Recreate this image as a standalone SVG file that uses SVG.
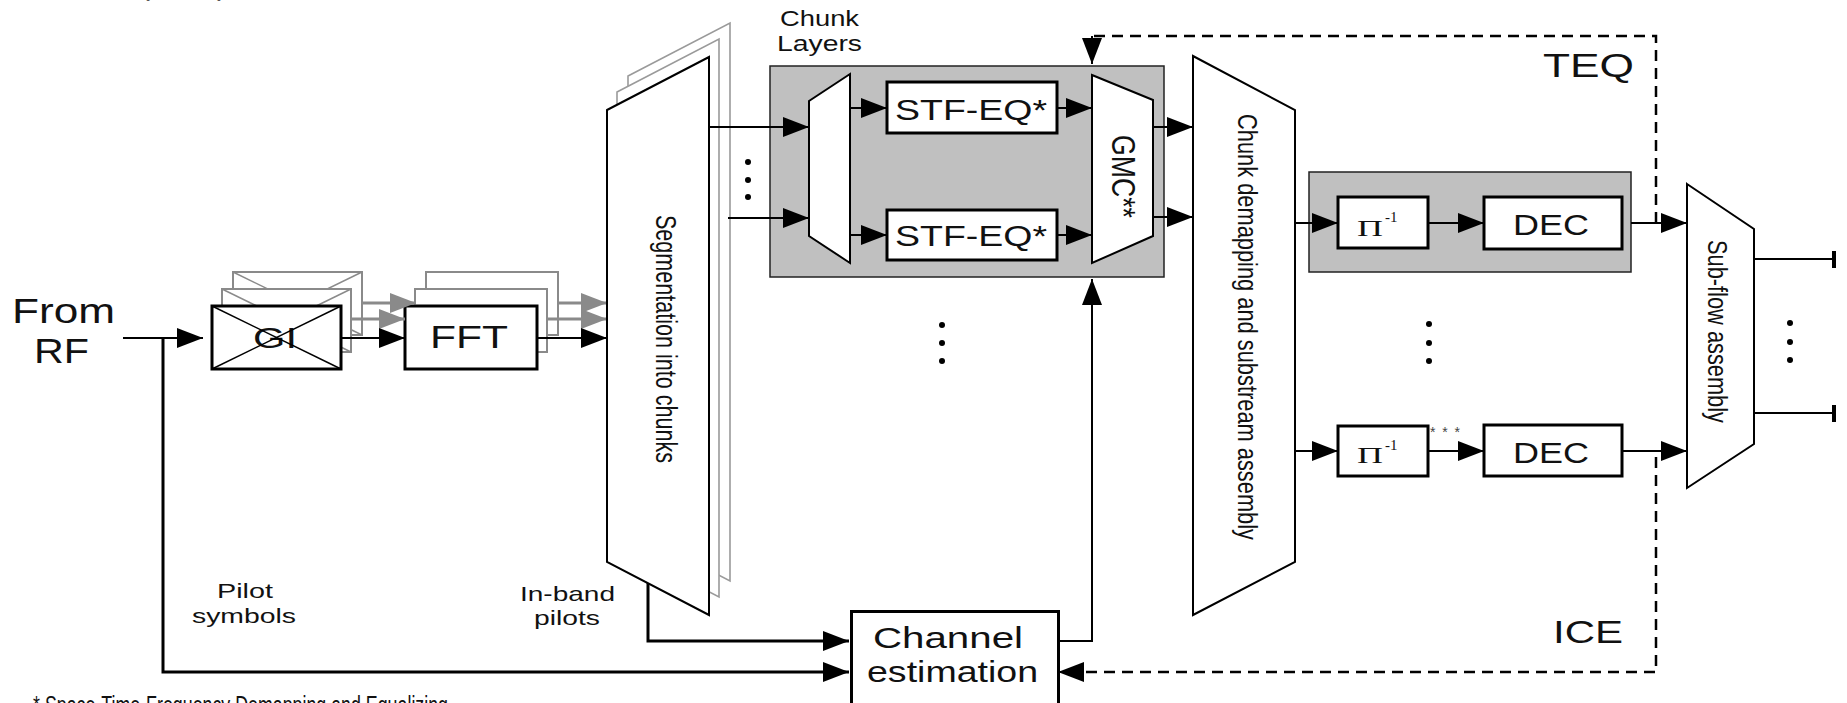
<svg xmlns="http://www.w3.org/2000/svg" width="1847" height="703" viewBox="0 0 1847 703">
<style>
text{font-family:"Liberation Sans",Arial,sans-serif;fill:#111}
.box{fill:#fff;stroke:#000;stroke-width:3}
.trap{fill:#fff;stroke:#000;stroke-width:2}
.shadow{fill:#fff;stroke:#8a8a8a;stroke-width:2}
.copy{fill:#fff;stroke:#9a9a9a;stroke-width:1.6}
.grp{fill:#c0c0c0;stroke:#222;stroke-width:1.5}
.ln{fill:none;stroke:#000;stroke-width:2}
.thick{fill:none;stroke:#000;stroke-width:3}
.gln{fill:none;stroke:#8a8a8a;stroke-width:3}
.dash{fill:none;stroke:#000;stroke-width:2.5;stroke-dasharray:11 7}
.xg{stroke:#8a8a8a;stroke-width:1.5}
.xb{stroke:#000;stroke-width:1.5}
.dot{fill:#000}
.serif{font-family:"Liberation Serif","Times New Roman",serif}
</style>
<defs>
<marker id="ah" viewBox="0 0 26 20" refX="26" refY="10" markerWidth="26" markerHeight="20" markerUnits="userSpaceOnUse" orient="auto"><path d="M0,0 L26,10 L0,20 z" fill="#000"/></marker>
<marker id="ahg" viewBox="0 0 26 20" refX="26" refY="10" markerWidth="26" markerHeight="20" markerUnits="userSpaceOnUse" orient="auto"><path d="M0,0 L26,10 L0,20 z" fill="#8a8a8a"/></marker>
</defs>

<!-- top fragment -->
<text x="140" y="-5" font-size="30" fill="#555" style="fill:#555">(</text>
<text x="217" y="-5" font-size="30" fill="#555" style="fill:#555">)</text>

<!-- GI node -->
<g id="gi">
  <rect class="shadow" x="233" y="272" width="129" height="63"/>
  <line class="xg" x1="233" y1="272" x2="362" y2="335"/><line class="xg" x1="233" y1="335" x2="362" y2="272"/>
  <rect class="shadow" x="222" y="289" width="129" height="63"/>
  <line class="xg" x1="222" y1="289" x2="351" y2="352"/><line class="xg" x1="222" y1="352" x2="351" y2="289"/>
  <rect class="box" x="212" y="306" width="129" height="63"/>
  <text x="253" y="348" font-size="29" textLength="44" lengthAdjust="spacingAndGlyphs">GI</text>
  <line class="xb" x1="212" y1="306" x2="341" y2="369"/><line class="xb" x1="212" y1="369" x2="341" y2="306"/>
</g>

<!-- FFT node -->
<g id="fft">
  <rect class="shadow" x="426" y="272" width="132" height="63"/>
  <rect class="shadow" x="415" y="289" width="132" height="63"/>
  <rect class="box" x="405" y="306" width="132" height="63"/>
  <text x="430" y="348" font-size="31" textLength="78" lengthAdjust="spacingAndGlyphs">FFT</text>
</g>

<!-- gray shadow arrows -->
<g id="shadow-connectors">
  <path class="gln" d="M351,319 H405" marker-end="url(#ahg)"/>
  <path class="gln" d="M362,303 H416" marker-end="url(#ahg)"/>
  <path class="gln" d="M547,319 H607" marker-end="url(#ahg)"/>
  <path class="gln" d="M558,303 H607" marker-end="url(#ahg)"/>
</g>

<!-- Segmentation node -->
<g id="segmentation">
  <polygon class="copy" points="628,76 730,23 730,581 628,528"/>
  <polygon class="copy" points="617,92 719,39 719,597 617,544"/>
  <polygon class="trap" points="607,110 709,57 709,615 607,562"/>
  <text transform="translate(656,215) rotate(90)" font-size="30" textLength="248" lengthAdjust="spacingAndGlyphs">Segmentation into chunks</text>
</g>

<!-- Chunk layers -->
<g id="chunk-layers">
  <text x="780" y="26" font-size="22" textLength="79" lengthAdjust="spacingAndGlyphs">Chunk</text>
  <text x="777" y="51" font-size="22" textLength="85" lengthAdjust="spacingAndGlyphs">Layers</text>
  <rect class="grp" x="770" y="66" width="394" height="211"/>
  <polygon class="trap" points="809,101 850,74 850,263 809,236"/>
  <rect class="box" x="887" y="82" width="170" height="51"/>
  <text x="895" y="120" font-size="30" textLength="152" lengthAdjust="spacingAndGlyphs">STF-EQ*</text>
  <rect class="box" x="887" y="210" width="170" height="50"/>
  <text x="895" y="246" font-size="30" textLength="152" lengthAdjust="spacingAndGlyphs">STF-EQ*</text>
  <polygon class="trap" points="1092,75 1153,100 1153,236 1092,263"/>
  <text transform="translate(1112,135) rotate(90)" font-size="34" textLength="83" lengthAdjust="spacingAndGlyphs">GMC**</text>
</g>

<!-- Chunk demapping -->
<g id="chunk-demapping">
  <polygon class="trap" points="1193,56 1295,110 1295,562 1193,615"/>
  <text transform="translate(1238,114) rotate(90)" font-size="28" textLength="426" lengthAdjust="spacingAndGlyphs">Chunk demapping and substream assembly</text>
</g>

<!-- Decoder row 1 -->
<g id="decoder-1">
  <rect class="grp" x="1309" y="172" width="322" height="100"/>
  <rect class="box" x="1338" y="197" width="90" height="51"/>
  <text class="serif" x="1357" y="236" font-size="24" textLength="26" lengthAdjust="spacingAndGlyphs">Π</text>
  <text class="serif" x="1385" y="222" font-size="15">-1</text>
  <rect class="box" x="1484" y="197" width="138" height="52"/>
  <text x="1513" y="235" font-size="29" textLength="76" lengthAdjust="spacingAndGlyphs">DEC</text>
</g>

<!-- Decoder row 2 -->
<g id="decoder-2">
  <rect class="box" x="1338" y="426" width="90" height="50"/>
  <text class="serif" x="1357" y="463" font-size="24" textLength="26" lengthAdjust="spacingAndGlyphs">Π</text>
  <text class="serif" x="1385" y="450" font-size="15">-1</text>
  <text x="1430" y="437" font-size="14" style="fill:#444" textLength="30" lengthAdjust="spacing">***</text>
  <rect class="box" x="1484" y="425" width="138" height="51"/>
  <text x="1513" y="463" font-size="29" textLength="76" lengthAdjust="spacingAndGlyphs">DEC</text>
</g>

<!-- Sub-flow assembly -->
<g id="subflow">
  <polygon class="trap" points="1687,184 1754,229 1754,444 1687,488"/>
  <text transform="translate(1708,240) rotate(90)" font-size="28" textLength="183" lengthAdjust="spacingAndGlyphs">Sub-flow assembly</text>
</g>

<!-- Channel estimation -->
<g id="channel-estimation">
  <rect class="box" x="851.5" y="611.5" width="207" height="95"/>
  <text x="873" y="648" font-size="29" textLength="150" lengthAdjust="spacingAndGlyphs">Channel</text>
  <text x="867" y="682" font-size="29" textLength="171" lengthAdjust="spacingAndGlyphs">estimation</text>
</g>

<!-- Labels -->
<g id="labels">
  <text x="12" y="323" font-size="35" textLength="103" lengthAdjust="spacingAndGlyphs">From</text>
  <text x="34" y="363" font-size="35" textLength="55" lengthAdjust="spacingAndGlyphs">RF</text>
  <text x="217" y="598" font-size="21" textLength="56" lengthAdjust="spacingAndGlyphs">Pilot</text>
  <text x="192" y="623" font-size="21" textLength="104" lengthAdjust="spacingAndGlyphs">symbols</text>
  <text x="520" y="601" font-size="21" textLength="95" lengthAdjust="spacingAndGlyphs">In-band</text>
  <text x="534" y="625" font-size="21" textLength="66" lengthAdjust="spacingAndGlyphs">pilots</text>
  <text x="1543" y="77" font-size="33" textLength="91" lengthAdjust="spacingAndGlyphs">TEQ</text>
  <text x="1553" y="643" font-size="32" textLength="70" lengthAdjust="spacingAndGlyphs">ICE</text>
  <text x="33" y="714" font-size="26" textLength="415" lengthAdjust="spacingAndGlyphs">* Space-Time-Frequency Demapping and Equalizing</text>
</g>

<!-- Dots -->
<g id="dots">
  <circle class="dot" cx="748" cy="162" r="3"/><circle class="dot" cx="748" cy="180" r="3"/><circle class="dot" cx="748" cy="197" r="3"/>
  <circle class="dot" cx="942" cy="325" r="3"/><circle class="dot" cx="942" cy="343" r="3"/><circle class="dot" cx="942" cy="361" r="3"/>
  <circle class="dot" cx="1429" cy="324" r="3"/><circle class="dot" cx="1429" cy="343" r="3"/><circle class="dot" cx="1429" cy="361" r="3"/>
  <circle class="dot" cx="1790" cy="323" r="3"/><circle class="dot" cx="1790" cy="342" r="3"/><circle class="dot" cx="1790" cy="360" r="3"/>
</g>

<!-- Connectors -->
<g id="connectors">
  <path class="ln" d="M123,338 H203" marker-end="url(#ah)"/>
  <path class="thick" d="M163,338 V672 H849" marker-end="url(#ah)"/>
  <path class="ln" d="M341,338 H405" marker-end="url(#ah)"/>
  <path class="ln" d="M537,338 H607" marker-end="url(#ah)"/>
  <path class="ln" d="M709,127 H809" marker-end="url(#ah)"/>
  <path class="ln" d="M728,218 H809" marker-end="url(#ah)"/>
  <path class="ln" d="M850,108 H887" marker-end="url(#ah)"/>
  <path class="ln" d="M850,235 H887" marker-end="url(#ah)"/>
  <path class="ln" d="M1057,108 H1092" marker-end="url(#ah)"/>
  <path class="ln" d="M1057,235 H1092" marker-end="url(#ah)"/>
  <path class="ln" d="M1153,127 H1193" marker-end="url(#ah)"/>
  <path class="ln" d="M1153,217 H1193" marker-end="url(#ah)"/>
  <path class="ln" d="M1295,223 H1338" marker-end="url(#ah)"/>
  <path class="ln" d="M1295,451 H1338" marker-end="url(#ah)"/>
  <path class="ln" d="M1428,223 H1484" marker-end="url(#ah)"/>
  <path class="ln" d="M1428,451 H1484" marker-end="url(#ah)"/>
  <path class="ln" d="M1631,223 H1687" marker-end="url(#ah)"/>
  <path class="ln" d="M1622,451 H1687" marker-end="url(#ah)"/>
  <path class="ln" d="M1754,259 H1834"/>
  <path class="ln" d="M1754,413 H1834"/>
  <rect x="1832" y="251" width="4" height="17" fill="#000"/>
  <rect x="1832" y="405" width="4" height="17" fill="#000"/>
  <path class="thick" d="M648,583 V641 H849" marker-end="url(#ah)"/>
  <path class="ln" d="M1058,641 H1092 V279" marker-end="url(#ah)"/>
  <path class="dash" d="M1656,223 V36 H1092"/>
  <path class="ln" d="M1092,36 V64" marker-end="url(#ah)"/>
  <path class="dash" d="M1656,457 V672 H1082"/>
  <path class="ln" d="M1084,672 H1058" marker-end="url(#ah)"/>
</g>
</svg>
